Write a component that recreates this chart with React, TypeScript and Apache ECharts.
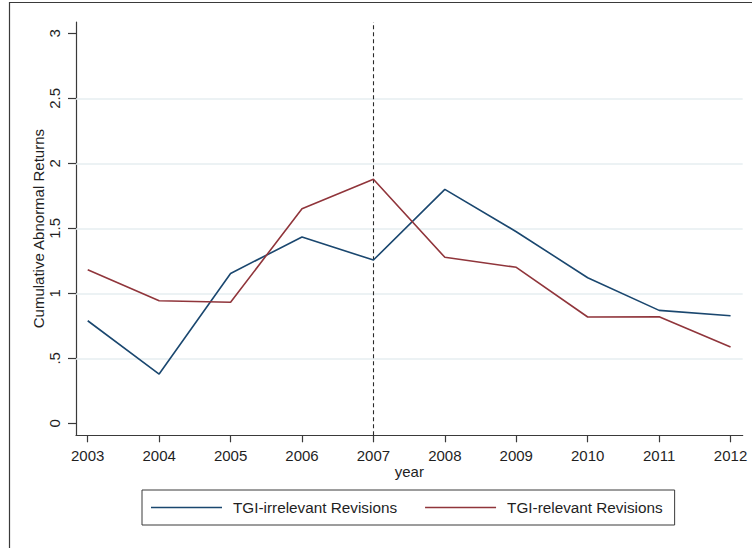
import React, { useEffect, useRef } from "react";
import * as echarts from "echarts";

// Years on the horizontal axis
const years = [2003, 2004, 2005, 2006, 2007, 2008, 2009, 2010, 2011, 2012];

// Cumulative abnormal returns by year
const irrelevantCAR = [0.789, 0.379, 1.153, 1.433, 1.256, 1.8, 1.474, 1.12, 0.869, 0.828];
const relevantCAR = [1.182, 0.943, 0.931, 1.651, 1.877, 1.277, 1.2, 0.818, 0.819, 0.587];

// Y-axis tick values and their labels
const yTicks = [0, 0.5, 1, 1.5, 2, 2.5, 3];
const yTickLabels = ["0", ".5", "1", "1.5", "2", "2.5", "3"];
const gridValues = [0.5, 1, 1.5, 2, 2.5];
const eventYear = 2007;

const seriesNames = ["TGI-irrelevant Revisions", "TGI-relevant Revisions"];
const seriesColors = ["#1a476f", "#90353b"];

const FONT = "'Liberation Sans', Arial, Helvetica, sans-serif";
const TEXT = "#1f1f1f";
const AXIS = "#3a3a3a";

export default function App() {
  const ref = useRef<HTMLDivElement>(null);

  useEffect(() => {
    if (!ref.current) return;
    const chart = echarts.init(ref.current, null, { renderer: "svg" });

    const pair = (vals: number[]) => years.map((y, i) => [y, vals[i]]);

    chart.setOption({
      animation: false,
      backgroundColor: "#ffffff",
      textStyle: { fontFamily: FONT },
      graphic: [
        {
          type: "rect",
          silent: true,
          shape: { x: 9.5, y: 2.5, width: 800, height: 600 },
          style: { fill: "none", stroke: "#3a3a3a", lineWidth: 1.2 },
        },
      ],
      grid: { left: 76, right: 9.3, top: 22, bottom: 112.7, containLabel: false },
      xAxis: {
        type: "value",
        min: 2002.836,
        max: 2012.17,
        name: "year",
        nameLocation: "middle",
        nameGap: 28.5,
        nameMoveOverlap: false,
        nameTextStyle: { fontSize: 15, color: TEXT, fontFamily: FONT },
        axisLine: { show: true, onZero: false, lineStyle: { color: AXIS, width: 1.2 } },
        axisTick: { show: true, length: 7, customValues: years, lineStyle: { color: AXIS, width: 1.2 } },
        axisLabel: {
          customValues: years,
          margin: 12.5,
          fontSize: 15,
          color: TEXT,
          fontFamily: FONT,
          formatter: (v: number) => String(Math.round(v)),
        },
        splitLine: { show: false },
      },
      yAxis: {
        type: "value",
        min: -0.092,
        max: 3.087,
        name: "Cumulative Abnormal Returns",
        nameLocation: "middle",
        nameGap: 30,
        nameMoveOverlap: false,
        nameTextStyle: { fontSize: 15, color: TEXT, fontFamily: FONT },
        axisLine: { show: true, onZero: false, lineStyle: { color: AXIS, width: 1.2 } },
        axisTick: { show: true, length: 8, customValues: yTicks, lineStyle: { color: AXIS, width: 1.2 } },
        axisLabel: {
          customValues: yTicks,
          rotate: 90,
          margin: 14,
          fontSize: 15,
          color: TEXT,
          fontFamily: FONT,
          formatter: (v: number) => {
            const i = yTicks.findIndex((t) => Math.abs(t - v) < 1e-6);
            return i >= 0 ? yTickLabels[i] : "";
          },
        },
        splitLine: { show: false },
      },
      legend: {
        data: seriesNames.map((name) => ({ name, icon: "rect" })),
        left: 142,
        top: 490,
        orient: "horizontal",
        padding: [10, 12, 10, 9],
        borderColor: "#3a3a3a",
        borderWidth: 1,
        itemWidth: 71,
        itemHeight: 1.6,
        itemGap: 28,
        textStyle: { fontSize: 15.3, color: TEXT, fontFamily: FONT, padding: [0, 0, 0, 6], lineHeight: 15 },
      },
      series: [
        {
          name: "reference",
          type: "line",
          data: [],
          silent: true,
          z: 1,
          markLine: {
            silent: true,
            z: 1,
            symbol: "none",
            label: { show: false },
            data: [
              ...gridValues.map((v) => ({
                yAxis: v,
                lineStyle: { color: "#e6eef1", width: 1.5, type: "solid" },
              })),
              {
                xAxis: eventYear,
                lineStyle: { color: "#2a2a2a", width: 1.1, type: [4, 3] },
              },
            ],
          },
        },
        {
          name: seriesNames[0],
          type: "line",
          z: 3,
          data: pair(irrelevantCAR),
          symbol: "none",
          color: seriesColors[0],
          lineStyle: { color: seriesColors[0], width: 1.6 },
        },
        {
          name: seriesNames[1],
          type: "line",
          z: 3,
          data: pair(relevantCAR),
          symbol: "none",
          color: seriesColors[1],
          lineStyle: { color: seriesColors[1], width: 1.6 },
        },
      ],
    });

    return () => chart.dispose();
  }, []);

  return (
    <div
      ref={ref}
      style={{ position: "fixed", left: 0, top: 0, width: 752, height: 548 }}
    />
  );
}
